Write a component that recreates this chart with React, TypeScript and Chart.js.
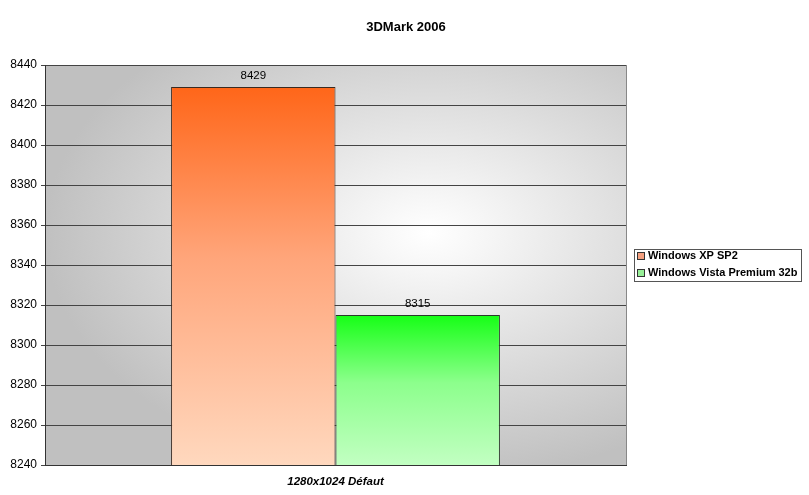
import React, { useEffect, useRef } from "react";
import { Chart, registerables } from "chart.js";

Chart.register(...registerables);

const categories = ["1280x1024 Défaut"];
const seriesNames = ["Windows XP SP2", "Windows Vista Premium 32b"];
const xpValues = [8429];
const vistaValues = [8315];
const yMin = 8240;
const yMax = 8440;
const yStep = 20;
const chartTitle = "3DMark 2006";

const FONT = "'Liberation Sans', Arial, sans-serif";

const decorPlugin = {
  id: "decor",
  beforeDraw(chart: any) {
    const { ctx, chartArea } = chart;
    const { left, right, top, bottom } = chartArea;
    const w = right - left;
    const h = bottom - top;
    const cx = left + w * 0.66;
    const cy = top + h * 0.42;
    ctx.save();
    ctx.beginPath();
    ctx.rect(left, top, w, h);
    ctx.clip();
    ctx.translate(cx, cy);
    ctx.scale(w * 0.66, h * 0.62);
    const g = ctx.createRadialGradient(0, 0, 0, 0, 0, 1);
    g.addColorStop(0, "#FFFFFF");
    g.addColorStop(0.15, "#F6F6F6");
    g.addColorStop(1, "#C0C0C0");
    ctx.fillStyle = g;
    ctx.fillRect(-3, -3, 6, 6);
    ctx.restore();
  },
  afterDatasetsDraw(chart: any) {
    const { ctx, chartArea } = chart;
    ctx.save();
    ctx.strokeStyle = "#888888";
    ctx.lineWidth = 1;
    ctx.beginPath();
    ctx.moveTo(Math.round(chartArea.right) + 0.5, chartArea.top);
    ctx.lineTo(Math.round(chartArea.right) + 0.5, chartArea.bottom);
    ctx.stroke();
    ctx.fillStyle = "#000";
    ctx.font = `11.5px ${FONT}`;
    ctx.textAlign = "center";
    ctx.textBaseline = "middle";
    chart.data.datasets.forEach((ds: any, i: number) => {
      const meta = chart.getDatasetMeta(i);
      meta.data.forEach((bar: any, j: number) => {
        ctx.fillText(String(ds.data[j]), bar.x, bar.y - 11.5);
      });
    });
    ctx.restore();
  },
  afterDraw(chart: any) {
    const { ctx } = chart;
    ctx.save();
    ctx.fillStyle = "#000";
    ctx.font = `bold 13px ${FONT}`;
    ctx.textAlign = "center";
    ctx.textBaseline = "middle";
    ctx.fillText(chartTitle, 406, 27);
    const bx = 634.5, by = 249.5, bw = 167, bh = 32;
    ctx.fillStyle = "#FFFFFF";
    ctx.fillRect(bx, by, bw, bh);
    ctx.strokeStyle = "#555";
    ctx.lineWidth = 1;
    ctx.strokeRect(bx, by, bw, bh);
    const markerColors = ["#F4A080", "#98F098"];
    ctx.font = `bold 11px ${FONT}`;
    ctx.textAlign = "left";
    seriesNames.forEach((name, i) => {
      const cy = 256 + i * 17;
      ctx.fillStyle = markerColors[i];
      ctx.fillRect(637.5, cy - 3.5, 7, 7);
      ctx.strokeStyle = "#333";
      ctx.strokeRect(637.5, cy - 3.5, 7, 7);
      ctx.fillStyle = "#000";
      ctx.fillText(name, 648, cy);
    });
    ctx.restore();
  },
};

function barGradient(top: string, mid: string, bottom: string) {
  return (c: any) => {
    const chart = c.chart;
    const area = chart.chartArea;
    const yScale = chart.scales && chart.scales.y;
    if (!area || !yScale || typeof c.raw !== "number") return top;
    const yTop = yScale.getPixelForValue(c.raw);
    const g = chart.ctx.createLinearGradient(0, yTop, 0, area.bottom);
    g.addColorStop(0, top);
    g.addColorStop(0.45, mid);
    g.addColorStop(1, bottom);
    return g;
  };
}

export default function App() {
  const ref = useRef<HTMLCanvasElement>(null);
  useEffect(() => {
    if (!ref.current) return;
    const chart = new Chart(ref.current, {
      type: "bar",
      data: {
        labels: categories,
        datasets: [
          {
            label: seriesNames[0],
            data: xpValues,
            backgroundColor: barGradient("#FF6619", "#FFA57A", "#FFD8BE"),
            borderColor: "#3a2a20",
            borderWidth: 1,
            borderSkipped: false,
          },
          {
            label: seriesNames[1],
            data: vistaValues,
            backgroundColor: barGradient("#16FF16", "#8CFF8C", "#C2FFC2"),
            borderColor: "#2a3a2a",
            borderWidth: 1,
            borderSkipped: false,
          },
        ],
      },
      options: {
        responsive: false,
        animation: false,
        layout: { padding: { top: 65, right: 183, left: 0, bottom: 0 } },
        plugins: {
          legend: { display: false },
          title: { display: false },
          tooltip: { enabled: false },
        },
        datasets: { bar: { categoryPercentage: 0.566, barPercentage: 1 } },
        scales: {
          x: {
            grid: { display: false, drawTicks: false },
            border: { display: true, color: "#333" },
            ticks: {
              color: "#000",
              padding: 10,
              font: { family: FONT, size: 11.5, weight: "bold", style: "italic" },
            },
            afterFit: (s: any) => {
              s.height = 30;
            },
          },
          y: {
            min: yMin,
            max: yMax,
            ticks: {
              stepSize: yStep,
              color: "#000",
              padding: 4,
              font: { family: FONT, size: 12 },
              callback: (v: any) => String(v),
            },
            grid: { color: "#444", tickLength: 4 },
            border: { color: "#333" },
            afterFit: (s: any) => {
              s.width = 45;
            },
          },
        },
      },
      plugins: [decorPlugin],
    } as any);
    return () => chart.destroy();
  }, []);
  return (
    <div style={{ position: "fixed", left: 0, top: 0, width: 809, height: 495, background: "#fff" }}>
      <canvas ref={ref} width={809} height={495} style={{ display: "block" }} />
    </div>
  );
}
